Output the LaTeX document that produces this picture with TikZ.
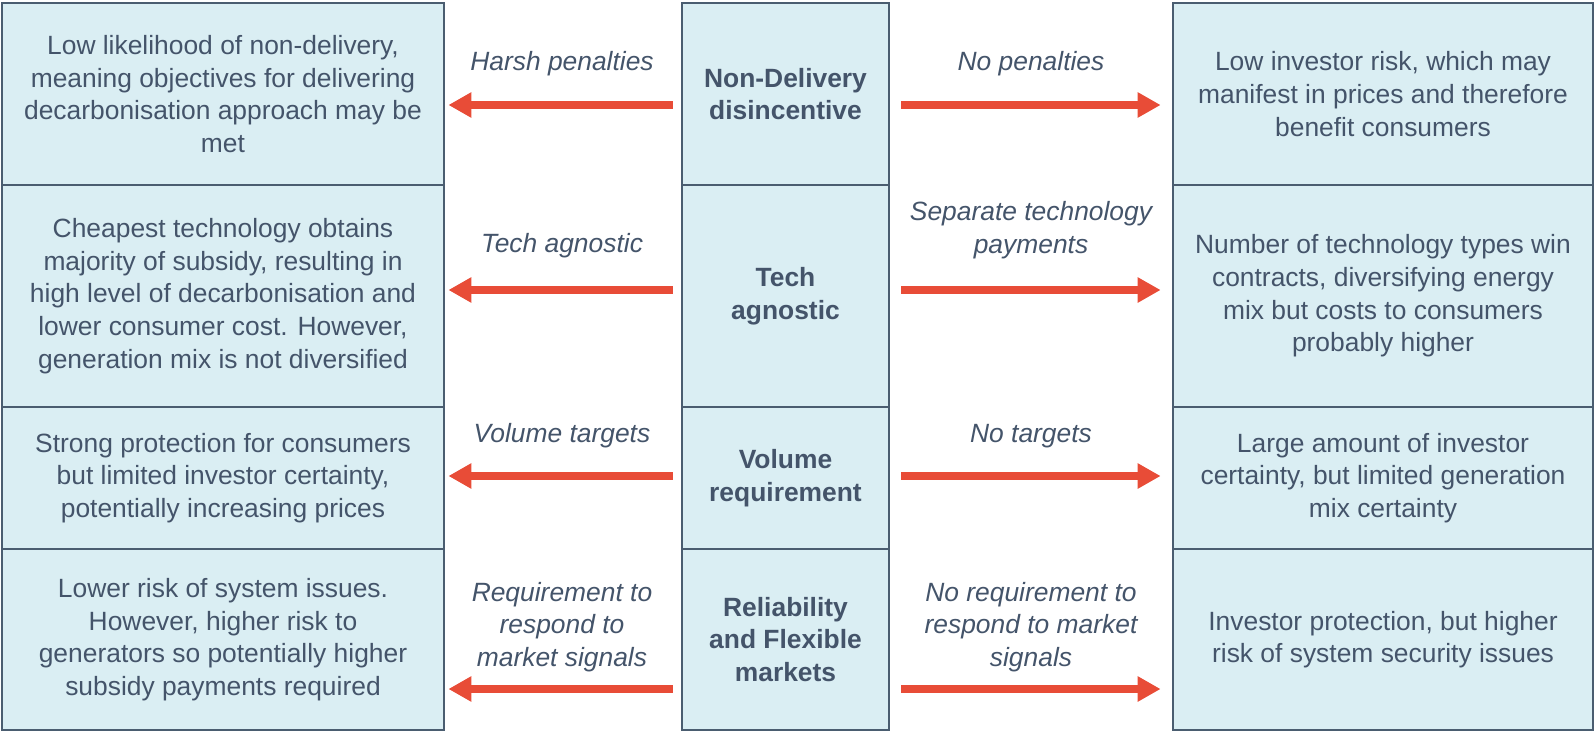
\documentclass[tikz,border=0pt]{standalone}
\usepackage{fontspec}
\setmainfont{Liberation Sans}
\usepackage{xcolor}
\definecolor{cellfill}{HTML}{DAEEF3}
\definecolor{cellline}{HTML}{4A5D70}
\definecolor{txtslate}{HTML}{44546A}
\definecolor{arrred}{HTML}{E84C37}
\usetikzlibrary{arrows.meta,positioning}

\begin{document}
\begin{tikzpicture}[x=0.5pt, y=-0.5pt,
  cell/.style={draw=cellline, fill=cellfill, line width=1.4pt, inner sep=0pt, align=center, text=txtslate, font=\fontsize{13.2}{16.3}\selectfont},
  lcell/.style={cell, minimum width=221pt},
  ccell/.style={cell, minimum width=103.5pt, font=\bfseries\fontsize{13.2}{16.3}\selectfont},
  rcell/.style={cell, minimum width=210pt},
  lbl/.style={align=center, text=txtslate, font=\itshape\fontsize{13.2}{16.3}\selectfont},
  arrL/.style={draw=arrred, line width=4pt, -{Triangle[length=11.5pt, width=12pt]}, shorten <=4pt, shorten >=1.5pt},
  arrR/.style={draw=arrred, line width=4pt, -{Triangle[length=11.5pt, width=12pt]}, shorten <=5.5pt, shorten >=5.5pt}
]
  \useasboundingbox (0,0) rectangle (1595,733);

  %% Row: Non-Delivery disincentive
  \node[lcell, minimum height=91pt] (ndL) at (223,94) {Low likelihood of non-delivery,\\meaning objectives for delivering\\decarbonisation approach may be\\met};
  \node[ccell, minimum height=91pt] (ndC) at (785.5,94) {Non-Delivery\\disincentive};
  \node[rcell, minimum height=91pt] (ndR) at (1383,94) {Low investor risk, which may\\manifest in prices and therefore\\benefit consumers};
  \coordinate (ndY) at (0,105);
  \node[lbl] (ndLl) at (562,64) {Harsh penalties};
  \node[lbl] (ndRl) at (1031,64) {No penalties};
  \draw[arrL] (ndC.west |- ndY) -- (ndL.east |- ndY);
  \draw[arrR] (ndC.east |- ndY) -- (ndR.west |- ndY);

  %% Row: Tech agnostic
  \node[lcell, minimum height=111pt] (taL) at (223,296) {Cheapest technology obtains\\majority of subsidy, resulting in\\high level of decarbonisation and\\lower consumer cost. However,\\generation mix is not diversified};
  \node[ccell, minimum height=111pt] (taC) at (785.5,296) {Tech\\agnostic};
  \node[rcell, minimum height=111pt] (taR) at (1383,296) {Number of technology types win\\contracts, diversifying energy\\mix but costs to consumers\\probably higher};
  \coordinate (taY) at (0,290);
  \node[lbl] (taLl) at (562,246) {Tech agnostic};
  \node[lbl] (taRl) at (1031,230) {Separate technology\\payments};
  \draw[arrL] (taC.west |- taY) -- (taL.east |- taY);
  \draw[arrR] (taC.east |- taY) -- (taR.west |- taY);

  %% Row: Volume requirement
  \node[lcell, minimum height=71pt] (vrL) at (223,478) {Strong protection for consumers\\but limited investor certainty,\\potentially increasing prices};
  \node[ccell, minimum height=71pt] (vrC) at (785.5,478) {Volume\\requirement};
  \node[rcell, minimum height=71pt] (vrR) at (1383,478) {Large amount of investor\\certainty, but limited generation\\mix certainty};
  \coordinate (vrY) at (0,476);
  \node[lbl] (vrLl) at (562,436) {Volume targets};
  \node[lbl] (vrRl) at (1031,436) {No targets};
  \draw[arrL] (vrC.west |- vrY) -- (vrL.east |- vrY);
  \draw[arrR] (vrC.east |- vrY) -- (vrR.west |- vrY);

  %% Row: Reliability and Flexible markets
  \node[lcell, minimum height=90.5pt] (rfL) at (223,639.5) {Lower risk of system issues.\\However, higher risk to\\generators so potentially higher\\subsidy payments required};
  \node[ccell, minimum height=90.5pt] (rfC) at (785.5,639.5) {Reliability\\and Flexible\\markets};
  \node[rcell, minimum height=90.5pt] (rfR) at (1383,639.5) {Investor protection, but higher\\risk of system security issues};
  \coordinate (rfY) at (0,689);
  \node[lbl] (rfLl) at (562,627) {Requirement to\\respond to\\market signals};
  \node[lbl] (rfRl) at (1031,627) {No requirement to\\respond to market\\signals};
  \draw[arrL] (rfC.west |- rfY) -- (rfL.east |- rfY);
  \draw[arrR] (rfC.east |- rfY) -- (rfR.west |- rfY);
\end{tikzpicture}
\end{document}
